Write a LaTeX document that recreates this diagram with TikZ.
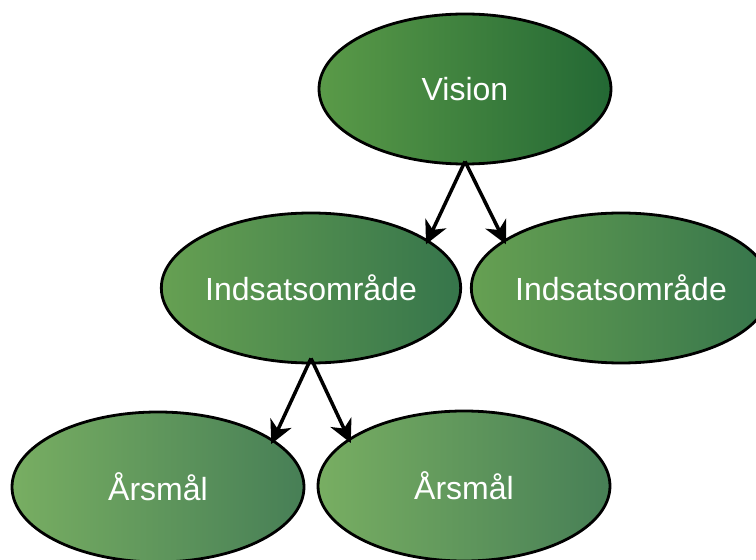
\documentclass[tikz,border=0pt]{standalone}
\usepackage{fontspec}
\setmainfont{Liberation Sans}
\usetikzlibrary{shapes.geometric,arrows.meta}
\begin{document}
\begin{tikzpicture}[x=1pt,y=1pt,
  oval/.style={ellipse,draw=black,line width=2.8pt,inner sep=0pt,
    minimum width=292pt,minimum height=150pt,text=white,
    font=\fontsize{32}{36}\selectfont},
  visionfill/.style={left color=vl,right color=vr},
  areafill/.style={left color=il,right color=ir},
  goalfill/.style={left color=al,right color=ar},
  link/.style={line width=3.5pt,-{Stealth[length=23pt,width=23pt,inset=7pt]}}]
\definecolor{vl}{HTML}{5A9A48}
\definecolor{vr}{HTML}{236834}
\definecolor{il}{HTML}{66A052}
\definecolor{ir}{HTML}{36754B}
\definecolor{al}{HTML}{78AE62}
\definecolor{ar}{HTML}{477F56}
\useasboundingbox (0,0) rectangle (756,560);
\node[oval,visionfill] (v) at (465,471) {Vision};
\node[oval,areafill] (i1) at (311,272) {Indsatsområde};
\node[oval,areafill] (i2) at (621,272) {Indsatsområde};
\node[oval,goalfill] (a1) at (158,73) {Årsmål};
\node[oval,goalfill] (a2) at (464,74) {Årsmål};
\draw[link] ([yshift=4pt]v.south) -- ([shift={(-3pt,-4pt)}]i1.22);
\draw[link] ([yshift=4pt]v.south) -- ([shift={(3pt,-4pt)}]i2.158);
\draw[link] ([yshift=6pt]i1.south) -- ([shift={(-3pt,-4pt)}]a1.22);
\draw[link] ([yshift=6pt]i1.south) -- ([shift={(3pt,-4pt)}]a2.158);
\end{tikzpicture}
\end{document}
